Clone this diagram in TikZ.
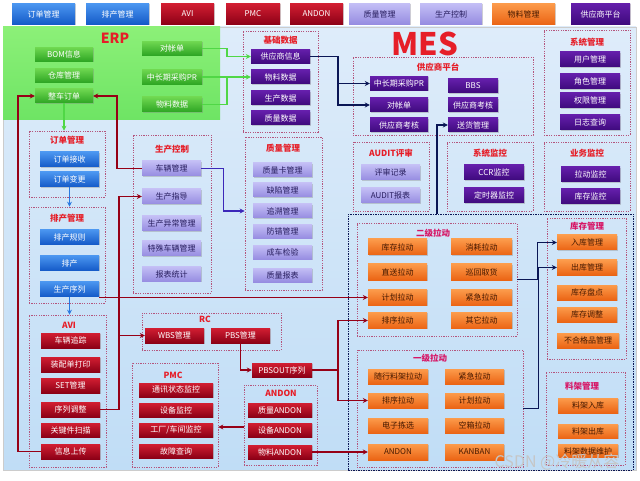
\documentclass[tikz,border=0pt]{standalone}
\usepackage{fontspec}
\setmainfont{Noto Sans CJK SC}
\usetikzlibrary{arrows.meta,shadows,calc}
\definecolor{panelT}{RGB}{222,236,250}
\definecolor{panelB}{RGB}{192,221,246}
\definecolor{ergT}{RGB}{140,240,120}
\definecolor{ergB}{RGB}{110,228,100}
\definecolor{grT}{RGB}{110,215,80}
\definecolor{grB}{RGB}{45,165,35}
\definecolor{blT}{RGB}{75,150,240}
\definecolor{blB}{RGB}{20,90,200}
\definecolor{puT}{RGB}{100,30,170}
\definecolor{puB}{RGB}{62,10,125}
\definecolor{lvT}{RGB}{195,190,245}
\definecolor{lvB}{RGB}{150,140,225}
\definecolor{lvText}{RGB}{40,30,95}
\definecolor{rdT}{RGB}{210,30,50}
\definecolor{rdB}{RGB}{140,0,22}
\definecolor{orT}{RGB}{252,155,75}
\definecolor{orB}{RGB}{235,100,20}
\definecolor{orText}{RGB}{70,25,0}
\definecolor{grpc}{RGB}{180,85,125}
\definecolor{ttlred}{RGB}{230,30,40}
\definecolor{ttlpink}{RGB}{215,20,100}
\definecolor{navyc}{RGB}{10,22,85}
\definecolor{darkredc}{RGB}{150,0,22}
\definecolor{indigoc}{RGB}{60,40,185}
\definecolor{greenc}{RGB}{80,215,70}
\definecolor{bluec}{RGB}{40,120,225}
\begin{document}
\begin{tikzpicture}[x=1pt,y=-1pt,
  bx/.style={rectangle, inner sep=0pt, font=\fontsize{8}{9}\selectfont,
    drop shadow={shadow xshift=0.8pt, shadow yshift=-0.9pt, opacity=0.35}},
  wh/.style 2 args={minimum width=#1pt, minimum height=#2pt},
  grbx/.style={bx, top color=grT, bottom color=grB, text=white},
  blbx/.style={bx, top color=blT, bottom color=blB, text=white},
  pubx/.style={bx, top color=puT, bottom color=puB, text=white},
  lvbx/.style={bx, top color=lvT, bottom color=lvB, text=lvText},
  rdbx/.style={bx, top color=rdT, bottom color=rdB, text=white},
  orbx/.style={bx, top color=orT, bottom color=orB, text=orText},
  grp/.style={rectangle, draw=grpc, line width=0.6pt, dash pattern=on 1.2pt off 1.2pt, inner sep=0pt},
  navygrp/.style={rectangle, draw=navyc, line width=0.7pt, dash pattern=on 1.5pt off 1pt, inner sep=0pt},
  ttl/.style={font=\fontsize{8.5}{9}\selectfont\bfseries, text=ttlred, inner sep=0pt},
  ttlp/.style={font=\fontsize{8.5}{9}\selectfont\bfseries, text=ttlpink, inner sep=0pt},
  rline/.style={draw=darkredc, line width=1.4pt},
  nline/.style={draw=navyc, line width=1.3pt},
  gline/.style={draw=greenc, line width=1.3pt},
  iline/.style={draw=indigoc, line width=1.4pt},
  bline/.style={draw=bluec, line width=1.5pt},
  tip/.style={-{Stealth[length=5pt,width=5pt]}}
]
\useasboundingbox (0,0) rectangle (640,481);
\fill[white] (0,0) rectangle (640,481);
% panel
\shade[top color=panelT, bottom color=panelB, draw=gray!40, line width=0.4pt] (3,27) rectangle (636,470);
% ERP green region
\node[rectangle, top color=ergT, bottom color=ergB, wh={217}{93}, inner sep=0pt] (gERP) at (111.5,73.5) {};
% top bar
\node[blbx,wh={63}{21}] (tb1) at (43.5,14) {订单管理};
\node[blbx,wh={63}{21}] (tb2) at (117.5,14) {排产管理};
\node[rdbx,wh={53}{21}] (tb3) at (187.5,14) {AVI};
\node[rdbx,wh={54}{21}] (tb4) at (253,14) {PMC};
\node[rdbx,wh={53}{21}] (tb5) at (316.5,14) {ANDON};
\node[lvbx,wh={61}{21}] (tb6) at (379.5,14) {质量管理};
\node[lvbx,wh={62}{21}] (tb7) at (451,14) {生产控制};
\node[orbx,wh={63}{21}] (tb8) at (523.5,14) {物料管理};
\node[pubx,wh={59}{21}] (tb9) at (600.5,14) {供应商平台};
% group boxes
\node[grp,wh={75}{101}] (gJC) at (280.5,81.5) {};
\node[grp,wh={180}{78}] (gSP) at (443,96) {};
\node[grp,wh={86}{105}] (gXT) at (587,82.5) {};
\node[grp,wh={76}{69}] (gAU) at (391,176.5) {};
\node[grp,wh={86}{69}] (gJK) at (490,176.5) {};
\node[grp,wh={86}{69}] (gYW) at (587,176.5) {};
\node[navygrp,wh={285}{256}] (gWL) at (490.5,342) {};
\node[grp,wh={160}{113}] (gEJ) at (437,279.5) {};
\node[grp,wh={79}{141}] (gKC) at (586.5,288.5) {};
\node[grp,wh={79}{93}] (gLJ) at (585.5,418.5) {};
\node[grp,wh={166}{117}] (gYJ) at (440,408.5) {};
\node[grp,wh={76}{66}] (gDD) at (67,164) {};
\node[grp,wh={76}{96}] (gPC) at (67,255) {};
\node[grp,wh={77}{152}] (gAVI) at (67.5,391) {};
\node[grp,wh={78}{158}] (gSC) at (172,214) {};
\node[grp,wh={77}{153}] (gZL) at (283.5,213.5) {};
\node[grp,wh={139}{37}] (gRC) at (211.5,331.5) {};
\node[grp,wh={86}{104}] (gPMC) at (175,415) {};
\node[grp,wh={73}{80}] (gAN) at (280.5,425) {};
% titles
\node[font=\fontsize{14}{14}\selectfont\bfseries, text=ttlred, inner sep=0pt] (tERP) at (115,38) {ERP};
\node[font=\fontsize{31}{31}\selectfont\bfseries, text=ttlred, inner sep=0pt] (tMES) at (425,44) {MES};
\node[ttl] (tJC) at (280.5,40) {基础数据};
\node[ttl] (tSP) at (438,67) {供应商平台};
\node[ttl] (tXT) at (587,42) {系统管理};
\node[ttl] (tAU) at (391,153) {AUDIT评审};
\node[ttl] (tJK) at (490,153) {系统监控};
\node[ttl] (tYW) at (587,153) {业务监控};
\node[ttlp] (tEJ) at (433,233) {二级拉动};
\node[ttlp] (tKC) at (587,226) {库存管理};
\node[ttlp] (tLJ) at (582,386) {料架管理};
\node[ttlp] (tYJ) at (430,358) {一级拉动};
\node[ttl] (tDD) at (67,140) {订单管理};
\node[ttl] (tPC) at (67,218) {排产管理};
\node[ttl] (tAVI) at (69,325) {AVI};
\node[ttl] (tSC) at (172,149) {生产控制};
\node[ttl] (tZL) at (283,148) {质量管理};
\node[ttl] (tRC) at (205,319) {RC};
\node[ttl] (tPMC) at (173,375) {PMC};
\node[ttl] (tAN) at (281,393) {ANDON};
% ERP boxes
\node[grbx,wh={58}{14}] (erp1) at (64,54.5) {BOM信息};
\node[grbx,wh={58}{14}] (erp2) at (64,75.5) {仓库管理};
\node[grbx,wh={58}{14}] (erp3) at (64,96) {整车订单};
\node[grbx,wh={60}{14}] (erp4) at (172,48.5) {对帐单};
\node[grbx,wh={60}{15}] (erp5) at (172,77) {中长期采购PR};
\node[grbx,wh={60}{15}] (erp6) at (172,104.5) {物料数据};
% basic data
\node[pubx,wh={59}{14}] (jc1) at (280.5,56.5) {供应商信息};
\node[pubx,wh={59}{14}] (jc2) at (280.5,77) {物料数据};
\node[pubx,wh={59}{14}] (jc3) at (280.5,98) {生产数据};
\node[pubx,wh={59}{14}] (jc4) at (280.5,118) {质量数据};
% supplier platform
\node[pubx,wh={58}{14}] (sp1) at (399,83.5) {中长期采购PR};
\node[pubx,wh={58}{14}] (sp2) at (399,105) {对帐单};
\node[pubx,wh={58}{14}] (sp3) at (399,125) {供应商考核};
\node[pubx,wh={50}{14}] (sp4) at (473,86) {BBS};
\node[pubx,wh={50}{14}] (sp5) at (473,105) {供应商考核};
\node[pubx,wh={50}{14}] (sp6) at (473,125) {送货管理};
% system mgmt
\node[pubx,wh={60}{15}] (xt1) at (590,59.5) {用户管理};
\node[pubx,wh={60}{15}] (xt2) at (590,81.5) {角色管理};
\node[pubx,wh={60}{15}] (xt3) at (590,100.5) {权限管理};
\node[pubx,wh={60}{15}] (xt4) at (590,122.5) {日志查询};
% audit
\node[lvbx,wh={59}{15}] (au1) at (390.5,172.5) {评审记录};
\node[lvbx,wh={59}{15}] (au2) at (390.5,195.5) {AUDIT报表};
% system monitor
\node[pubx,wh={60}{15}] (jk1) at (494,172.5) {CCR监控};
\node[pubx,wh={60}{15}] (jk2) at (494,195.5) {定时器监控};
% business monitor
\node[pubx,wh={59}{15}] (yw1) at (590.5,174.5) {拉动监控};
\node[pubx,wh={59}{15}] (yw2) at (590.5,196.5) {库存监控};
% level-2 pull
\node[orbx,wh={59}{16}] (ej1) at (397.5,247) {库存拉动};
\node[orbx,wh={61}{16}] (ej2) at (481.5,247) {消耗拉动};
\node[orbx,wh={59}{16}] (ej3) at (397.5,272) {直送拉动};
\node[orbx,wh={61}{16}] (ej4) at (481.5,272) {巡回取货};
\node[orbx,wh={59}{16}] (ej5) at (397.5,297.5) {计划拉动};
\node[orbx,wh={61}{16}] (ej6) at (481.5,297.5) {紧急拉动};
\node[orbx,wh={59}{16}] (ej7) at (397.5,320.5) {排序拉动};
\node[orbx,wh={61}{16}] (ej8) at (481.5,320.5) {其它拉动};
% inventory
\node[orbx,wh={60}{15}] (kc1) at (587,242.5) {入库管理};
\node[orbx,wh={60}{15}] (kc2) at (587,267.5) {出库管理};
\node[orbx,wh={60}{15}] (kc3) at (587,292.5) {库存盘点};
\node[orbx,wh={60}{15}] (kc4) at (587,314.5) {库存调整};
\node[orbx,wh={62}{15}] (kc5) at (588,340.5) {不合格品管理};
% rack
\node[orbx,wh={60}{15}] (lj1) at (588,405.5) {料架入库};
\node[orbx,wh={60}{14}] (lj2) at (588,431.5) {料架出库};
\node[orbx,wh={60}{13}] (lj3) at (588,451) {料架数据维护};
% level-1 pull
\node[orbx,wh={60}{15}] (yj1) at (398,376.5) {随行料架拉动};
\node[orbx,wh={59}{15}] (yj2) at (474.5,376.5) {紧急拉动};
\node[orbx,wh={60}{15}] (yj3) at (398,400.5) {排序拉动};
\node[orbx,wh={59}{15}] (yj4) at (474.5,400.5) {计划拉动};
\node[orbx,wh={60}{15}] (yj5) at (398,425.5) {电子拣选};
\node[orbx,wh={59}{15}] (yj6) at (474.5,425.5) {空箱拉动};
\node[orbx,wh={60}{16}] (yj7) at (398,452) {ANDON};
\node[orbx,wh={59}{16}] (yj8) at (474.5,452) {KANBAN};
% order mgmt
\node[blbx,wh={59}{15}] (dd1) at (69.5,159.5) {订单接收};
\node[blbx,wh={59}{15}] (dd2) at (69.5,179.5) {订单变更};
% scheduling
\node[blbx,wh={59}{15}] (pc1) at (69.5,237) {排产规则};
\node[blbx,wh={59}{15}] (pc2) at (69.5,263) {排产};
\node[blbx,wh={59}{15}] (pc3) at (69.5,289) {生产序列};
% AVI
\node[rdbx,wh={59}{15}] (avi1) at (70.5,340.5) {车辆追踪};
\node[rdbx,wh={59}{15}] (avi2) at (70.5,364.5) {装配单打印};
\node[rdbx,wh={59}{15}] (avi3) at (70.5,385.5) {SET管理};
\node[rdbx,wh={59}{15}] (avi4) at (70.5,409.5) {序列调整};
\node[rdbx,wh={59}{14}] (avi5) at (70.5,430) {关键件扫描};
\node[rdbx,wh={59}{15}] (avi6) at (70.5,451.5) {信息上传};
% production control
\node[lvbx,wh={59}{15}] (sc1) at (171.5,168.5) {车辆管理};
\node[lvbx,wh={59}{15}] (sc2) at (171.5,196.5) {生产指导};
\node[lvbx,wh={59}{15}] (sc3) at (171.5,223.5) {生产异常管理};
\node[lvbx,wh={59}{15}] (sc4) at (171.5,248.5) {特殊车辆管理};
\node[lvbx,wh={59}{15}] (sc5) at (171.5,274) {报表统计};
% quality
\node[lvbx,wh={59}{14}] (zl1) at (282.5,170) {质量卡管理};
\node[lvbx,wh={59}{14}] (zl2) at (282.5,190) {缺陷管理};
\node[lvbx,wh={59}{14}] (zl3) at (282.5,211) {追溯管理};
\node[lvbx,wh={59}{14}] (zl4) at (282.5,231.5) {防错管理};
\node[lvbx,wh={59}{14}] (zl5) at (282.5,252.5) {成车检验};
\node[lvbx,wh={59}{14}] (zl6) at (282.5,275) {质量报表};
% RC
\node[rdbx,wh={59}{15}] (rc1) at (174.5,335.5) {WBS管理};
\node[rdbx,wh={59}{15}] (rc2) at (240.5,335.5) {PBS管理};
\node[rdbx,wh={60}{14}] (pbsout) at (282,370) {PBSOUT序列};
% PMC
\node[rdbx,wh={74}{14}] (pmc1) at (176,390) {通讯状态监控};
\node[rdbx,wh={74}{14}] (pmc2) at (176,410) {设备监控};
\node[rdbx,wh={74}{14}] (pmc3) at (176,430) {工厂/车间监控};
\node[rdbx,wh={74}{14}] (pmc4) at (176,451) {故障查询};
% ANDON
\node[rdbx,wh={64}{14}] (an1) at (280,410) {质量ANDON};
\node[rdbx,wh={64}{14}] (an2) at (280,430) {设备ANDON};
\node[rdbx,wh={64}{14}] (an3) at (280,452) {物料ANDON};
% ---- connectors ----
% green
\coordinate (gj1) at (227,56.5);
\coordinate (gj2) at (227,77);
\draw[gline,tip] (erp4.east) -| (gj1) -- (jc1.west);
\draw[gline,tip] (erp5.east) -- (jc2.west);
\draw[gline] (erp6.east) -| (gj2);
\draw[gline,tip] (erp3.south) -- (erp3.south |- gDD.north);
% navy
\coordinate (nj1) at (338,83.5);
\draw[nline,tip] (jc1.east) -| (nj1) -- (sp1.west);
\draw[nline,tip] (nj1) |- (sp2.west);
\coordinate (nj2) at (437,214);
\draw[nline,tip] (nj2) |- (sp6.west);
\draw[nline,tip] (gEJ.east) -- ++(20,0) |- (kc1.west);
\draw[nline,tip] (gYJ.east) -- ++(15,0) |- (kc2.west);
% blue
\draw[bline,tip] (dd2.south) -- (dd2.south |- gPC.north);
\draw[bline,tip] (pc3.south) -- (pc3.south |- gAVI.north);
% indigo
\draw[iline,tip] (sc1.east) -- ++(22,0) |- (zl3.west -| gZL.west);
% dark red
\draw[rline,tip] (avi6.west) -- ++(-23,0) |- (erp3.west);
\draw[rline,tip] (sc1.west) -- ++(-25,0) |- (erp3.east);
\coordinate (rj0) at (119,409.5);
\draw[rline,tip] (avi4.east) -- (rj0) |- (sc2.west);
\draw[rline,tip] (rj0) |- (rc1.west);
\draw[rline,tip] (pc3.east |- ej5.west) -- (ej5.west);
\draw[rline,tip] (rc2.south) |- (pbsout.west);
\coordinate (rj1) at (338,370);
\draw[rline] (pbsout.east) -- (rj1);
\draw[rline,tip] (rj1) |- (ej7.west);
\draw[rline,tip] (rj1) |- (yj3.west);
\draw[rline,tip] (an3.east) -- (yj7.west);
\draw[rline,tip] ([yshift=-2pt]gAN.west) -- ([yshift=-2pt]gAN.west -| gPMC.east);
% watermark
\node[font=\fontsize{16}{16}\selectfont, text=gray!45, inner sep=0pt] (wm) at (557,462) {CSDN @冷暖从容};
\end{tikzpicture}
\end{document}
